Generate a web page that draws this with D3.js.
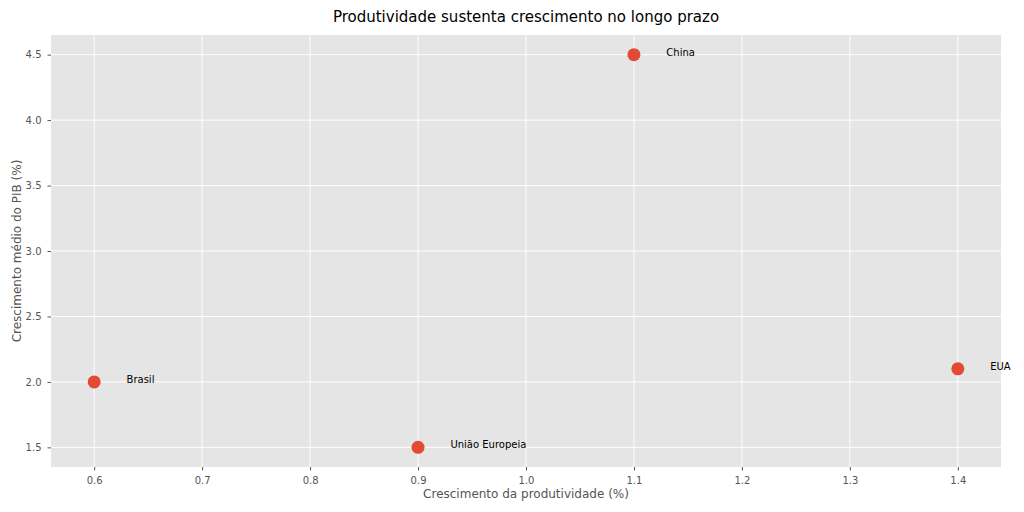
<!DOCTYPE html>
<html>
<head>
<meta charset="utf-8">
<script src="https://cdn.jsdelivr.net/npm/d3@7"></script>
<style>
  body { margin: 0; background: #fff; }
  svg { font-family: "DejaVu Sans", sans-serif; }
</style>
</head>
<body>
<svg id="chart"></svg>
<script>
// data
const countries = ['Brasil', 'China', 'EUA', 'União Europeia'];
const productivity = [0.6, 1.1, 1.4, 0.9];
const gdpGrowth = [2.0, 4.5, 2.1, 1.5];
const xTicks = [0.6, 0.7, 0.8, 0.9, 1.0, 1.1, 1.2, 1.3, 1.4];
const yTicks = [1.5, 2.0, 2.5, 3.0, 3.5, 4.0, 4.5];

const width = 1024, height = 512;
const margin = { top: 35, right: 23, bottom: 45, left: 51 };

const svg = d3.select('#chart').attr('width', width).attr('height', height);

const x = d3.scaleLinear().domain([0.56, 1.44]).range([margin.left, width - margin.right]);
const y = d3.scaleLinear().domain([1.35, 4.65]).range([height - margin.bottom, margin.top]);

// panel background
svg.append('rect')
  .attr('x', margin.left).attr('y', margin.top)
  .attr('width', x.range()[1] - x.range()[0])
  .attr('height', y.range()[0] - y.range()[1])
  .attr('fill', '#E5E5E5');

// gridlines
svg.append('g').selectAll('line').data(xTicks).join('line')
  .attr('x1', d => x(d)).attr('x2', d => x(d))
  .attr('y1', margin.top).attr('y2', height - margin.bottom)
  .attr('stroke', '#fff').attr('stroke-width', 1);
svg.append('g').selectAll('line').data(yTicks).join('line')
  .attr('x1', margin.left).attr('x2', width - margin.right)
  .attr('y1', d => y(d)).attr('y2', d => y(d))
  .attr('stroke', '#fff').attr('stroke-width', 1);

// axes
const xAxis = svg.append('g')
  .attr('transform', `translate(0,${height - margin.bottom})`)
  .call(d3.axisBottom(x).tickValues(xTicks).tickFormat(d3.format('.1f')).tickSize(3.5).tickPadding(6));
const yAxis = svg.append('g')
  .attr('transform', `translate(${margin.left},0)`)
  .call(d3.axisLeft(y).tickValues(yTicks).tickFormat(d3.format('.1f')).tickSize(3.5).tickPadding(6));
[xAxis, yAxis].forEach(a => {
  a.select('.domain').remove();
  a.selectAll('line').attr('stroke', '#555');
  a.selectAll('text').attr('fill', '#555').style('font-size', '10px').style('font-family', '"DejaVu Sans", sans-serif');
});

// points
const pts = countries.map((c, i) => ({ name: c, px: productivity[i], gy: gdpGrowth[i] }));
svg.append('g').selectAll('circle').data(pts).join('circle')
  .attr('cx', d => x(d.px)).attr('cy', d => y(d.gy))
  .attr('r', 6.5).attr('fill', '#E24A33');

// labels, offset a bit right and up
svg.append('g').selectAll('text').data(pts).join('text')
  .attr('x', d => x(d.px + 0.03)).attr('y', d => y(d.gy + 0.02))
  .attr('dy', '0.35em')
  .style('font-size', '10px').attr('fill', '#000')
  .text(d => d.name);

// titles
svg.append('text')
  .attr('x', (margin.left + width - margin.right) / 2).attr('y', 22)
  .attr('text-anchor', 'middle').style('font-size', '15px').attr('fill', '#000')
  .text('Produtividade sustenta crescimento no longo prazo');
svg.append('text')
  .attr('x', (margin.left + width - margin.right) / 2).attr('y', 498)
  .attr('text-anchor', 'middle').style('font-size', '12px').attr('fill', '#555')
  .text('Crescimento da produtividade (%)');
svg.append('text')
  .attr('transform', `translate(21,${(margin.top + height - margin.bottom) / 2}) rotate(-90)`)
  .attr('text-anchor', 'middle').style('font-size', '12px').attr('fill', '#555')
  .text('Crescimento médio do PIB (%)');
</script>
</body>
</html>
